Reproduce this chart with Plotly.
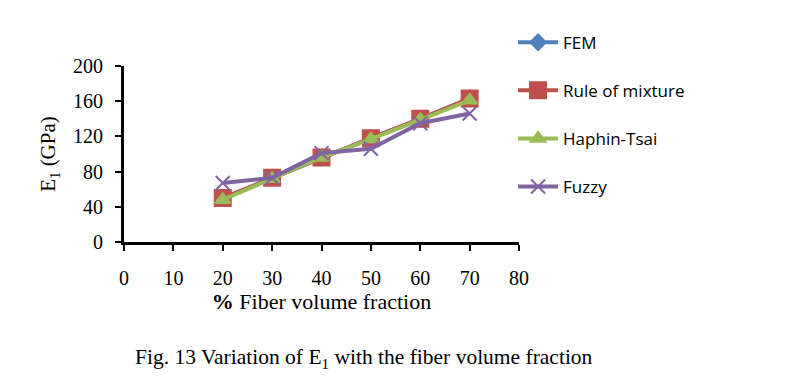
import plotly.graph_objects as go

x_vals = [20, 30, 40, 50, 60, 70]
fem = [50, 73, 96, 118, 140, 163]
rule_of_mixture = [50, 73, 96, 118, 140, 163]
haphin_tsai = [48, 72, 96, 117, 139, 161]
fuzzy = [67, 73, 101, 106, 135, 146]
x_ticks = [0, 10, 20, 30, 40, 50, 60, 70, 80]
y_ticks = [0, 40, 80, 120, 160, 200]

series = [
    ("FEM", fem, "#4F81BD", "diamond", 12),
    ("Rule of mixture", rule_of_mixture, "#C0504D", "square", 16),
    ("Haphin-Tsai", haphin_tsai, "#9BBB59", "triangle-up", 13),
    ("Fuzzy", fuzzy, "#8064A2", "x-thin", 14),
]

fig = go.Figure()
for i, (name, vals, col, sym, size) in enumerate(series):
    fig.add_trace(go.Scatter(
        x=x_vals, y=vals, name=name, mode="lines+markers",
        legendgroup=f"g{i}",
        line=dict(color=col, width=4),
        marker=dict(symbol=sym, size=size, color=col,
                    line=dict(color=col, width=2)),
    ))

serif = "Liberation Serif, Times New Roman, serif"
fig.update_layout(
    width=791, height=392,
    margin=dict(l=116, r=280, t=58, b=158, autoexpand=False),
    plot_bgcolor="white", paper_bgcolor="white",
    showlegend=True,
    legend=dict(x=0.985, y=1.235, xanchor="left", yanchor="top",
                traceorder="grouped", tracegroupgap=23,
                font=dict(family="Open Sans, Noto Sans, sans-serif", size=17, color="black"),
                itemwidth=40, bgcolor="rgba(0,0,0,0)"),
    xaxis=dict(range=[0, 80], tickvals=x_ticks, showgrid=False, zeroline=False,
               showline=True, linecolor="black", linewidth=3,
               ticks="outside", ticklen=6, tickwidth=2, tickcolor="black",
               ticklabelstandoff=10,
               tickfont=dict(family=serif, size=20, color="black"),
               title=dict(text="<b>%</b> Fiber volume fraction",
                          font=dict(family=serif, size=22, color="black"), standoff=4)),
    yaxis=dict(range=[0, 200], tickvals=y_ticks, showgrid=False, zeroline=False,
               showline=True, linecolor="black", linewidth=3,
               ticks="outside", ticklen=6, tickwidth=2, tickcolor="black",
               ticklabelstandoff=8,
               tickfont=dict(family=serif, size=20, color="black"),
               title=dict(text="E<sub>1</sub> (GPa)",
                          font=dict(family=serif, size=21, color="black"), standoff=12)),
    annotations=[dict(text="Fig. 13 Variation of E<sub>1</sub> with the fiber volume fraction",
                      xref="paper", yref="paper", x=0.608, y=-0.66,
                      xanchor="center", yanchor="middle", showarrow=False,
                      font=dict(family=serif, size=21.5, color="black"))],
)

fig.write_html("out.html")
